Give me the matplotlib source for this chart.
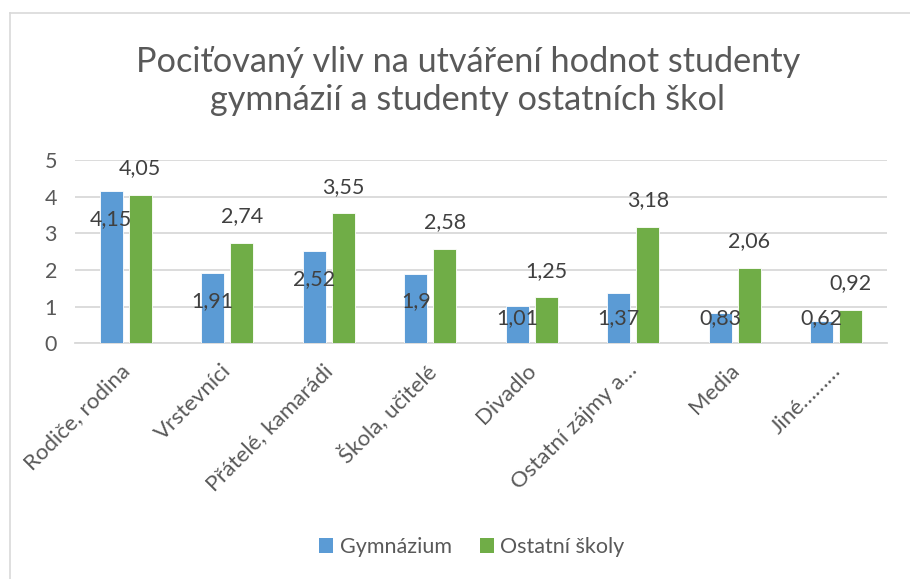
import matplotlib
matplotlib.use("Agg")
import matplotlib.pyplot as plt
import matplotlib.transforms as mtransforms
import numpy as np
from matplotlib.lines import Line2D
from matplotlib.patches import Patch

categories = ["Rodiče, rodina", "Vrstevníci", "Přátelé, kamarádi", "Škola, učitelé",
              "Divadlo", "Ostatní zájmy a…", "Media", "Jiné………"]
gymnazium = [4.15, 1.91, 2.52, 1.90, 1.01, 1.37, 0.83, 0.62]
ostatni = [4.05, 2.74, 3.55, 2.58, 1.25, 3.18, 2.06, 0.92]
gym_labels = ["4,15", "1,91", "2,52", "1,9", "1,01", "1,37", "0,83", "0,62"]
ost_labels = ["4,05", "2,74", "3,55", "2,58", "1,25", "3,18", "2,06", "0,92"]
series_names = ["Gymnázium", "Ostatní školy"]
title = "Pociťovaný vliv na utváření hodnot studenty\ngymnázií a studenty ostatních škol"

BLUE = "#5B9BD5"
GREEN = "#70AD47"
TXT = "#595959"
LBL = "#404040"

plt.rcParams['font.family'] = ['Lato', 'DejaVu Sans']

W, H = 910, 579
fig = plt.figure(figsize=(W / 100, H / 100), dpi=100)
ax = fig.add_axes([75 / W, 1 - 343.3 / H, (887 - 75) / W, (343.3 - 160) / H])

x = np.arange(len(categories))
bw = 0.227
off = 0.143
ax.bar(x - off, gymnazium, bw, color=BLUE, edgecolor="white", linewidth=0.6, zorder=3)
ax.bar(x + off, ostatni, bw, color=GREEN, edgecolor="white", linewidth=0.6, zorder=3)

ax.set_xlim(-0.5, len(categories) - 0.5)
ax.set_ylim(0, 5)
ax.set_yticks(range(0, 6))
ax.yaxis.grid(True, color="#D9D9D9", linewidth=1.3, zorder=0)
ax.set_axisbelow(True)
for s in ["top", "right", "left"]:
    ax.spines[s].set_visible(False)
ax.spines["bottom"].set_color("#D9D9D9")
ax.spines["bottom"].set_linewidth(1.3)
ax.tick_params(axis="y", length=0, pad=13, labelsize=15.5, labelcolor=TXT)
ax.tick_params(axis="x", length=0, pad=0)
ax.set_xticks(x)
ax.set_xticklabels(categories, rotation=45, ha="right", va="top",
                   rotation_mode="anchor", fontsize=16, color=TXT)
shift = mtransforms.ScaledTranslation(-6 / 100, -17 / 100, fig.dpi_scale_trans)
for t in ax.get_xticklabels():
    t.set_transform(t.get_transform() + shift)

# data labels
for i in range(len(categories)):
    yb = max(gymnazium[i] - 0.76, 0.70)
    ax.text(x[i] - off, yb, gym_labels[i], ha="center", va="center",
            fontsize=15.5, color=LBL, zorder=4)
    ax.annotate(ost_labels[i], (x[i] + off, ostatni[i]), xytext=(0, 19),
                textcoords="offset points", ha="center", va="center",
                fontsize=15.5, color=LBL, zorder=4)

fig.text(468 / W, 1 - 81 / H, title, ha="center", va="center", fontsize=24.7,
         fontweight="normal", color=TXT, linespacing=1.26)

handles = [Patch(facecolor=BLUE), Patch(facecolor=GREEN)]
fig.legend(handles, series_names, loc="center", bbox_to_anchor=(472 / W, 1 - 547 / H),
           ncol=2, frameon=False, fontsize=15.5, labelcolor=TXT,
           handlelength=0.65, handleheight=0.65, handletextpad=0.3, columnspacing=1.3)

# chart frame (top and left edges visible)
fig.add_artist(Line2D([10 / W, 1], [1 - 12.5 / H, 1 - 12.5 / H], color="#D9D9D9", lw=1.2,
                      transform=fig.transFigure))
fig.add_artist(Line2D([10 / W, 10 / W], [0, 1 - 12.5 / H], color="#D9D9D9", lw=1.2,
                      transform=fig.transFigure))

fig.savefig("out.png", dpi=100, facecolor="white")
